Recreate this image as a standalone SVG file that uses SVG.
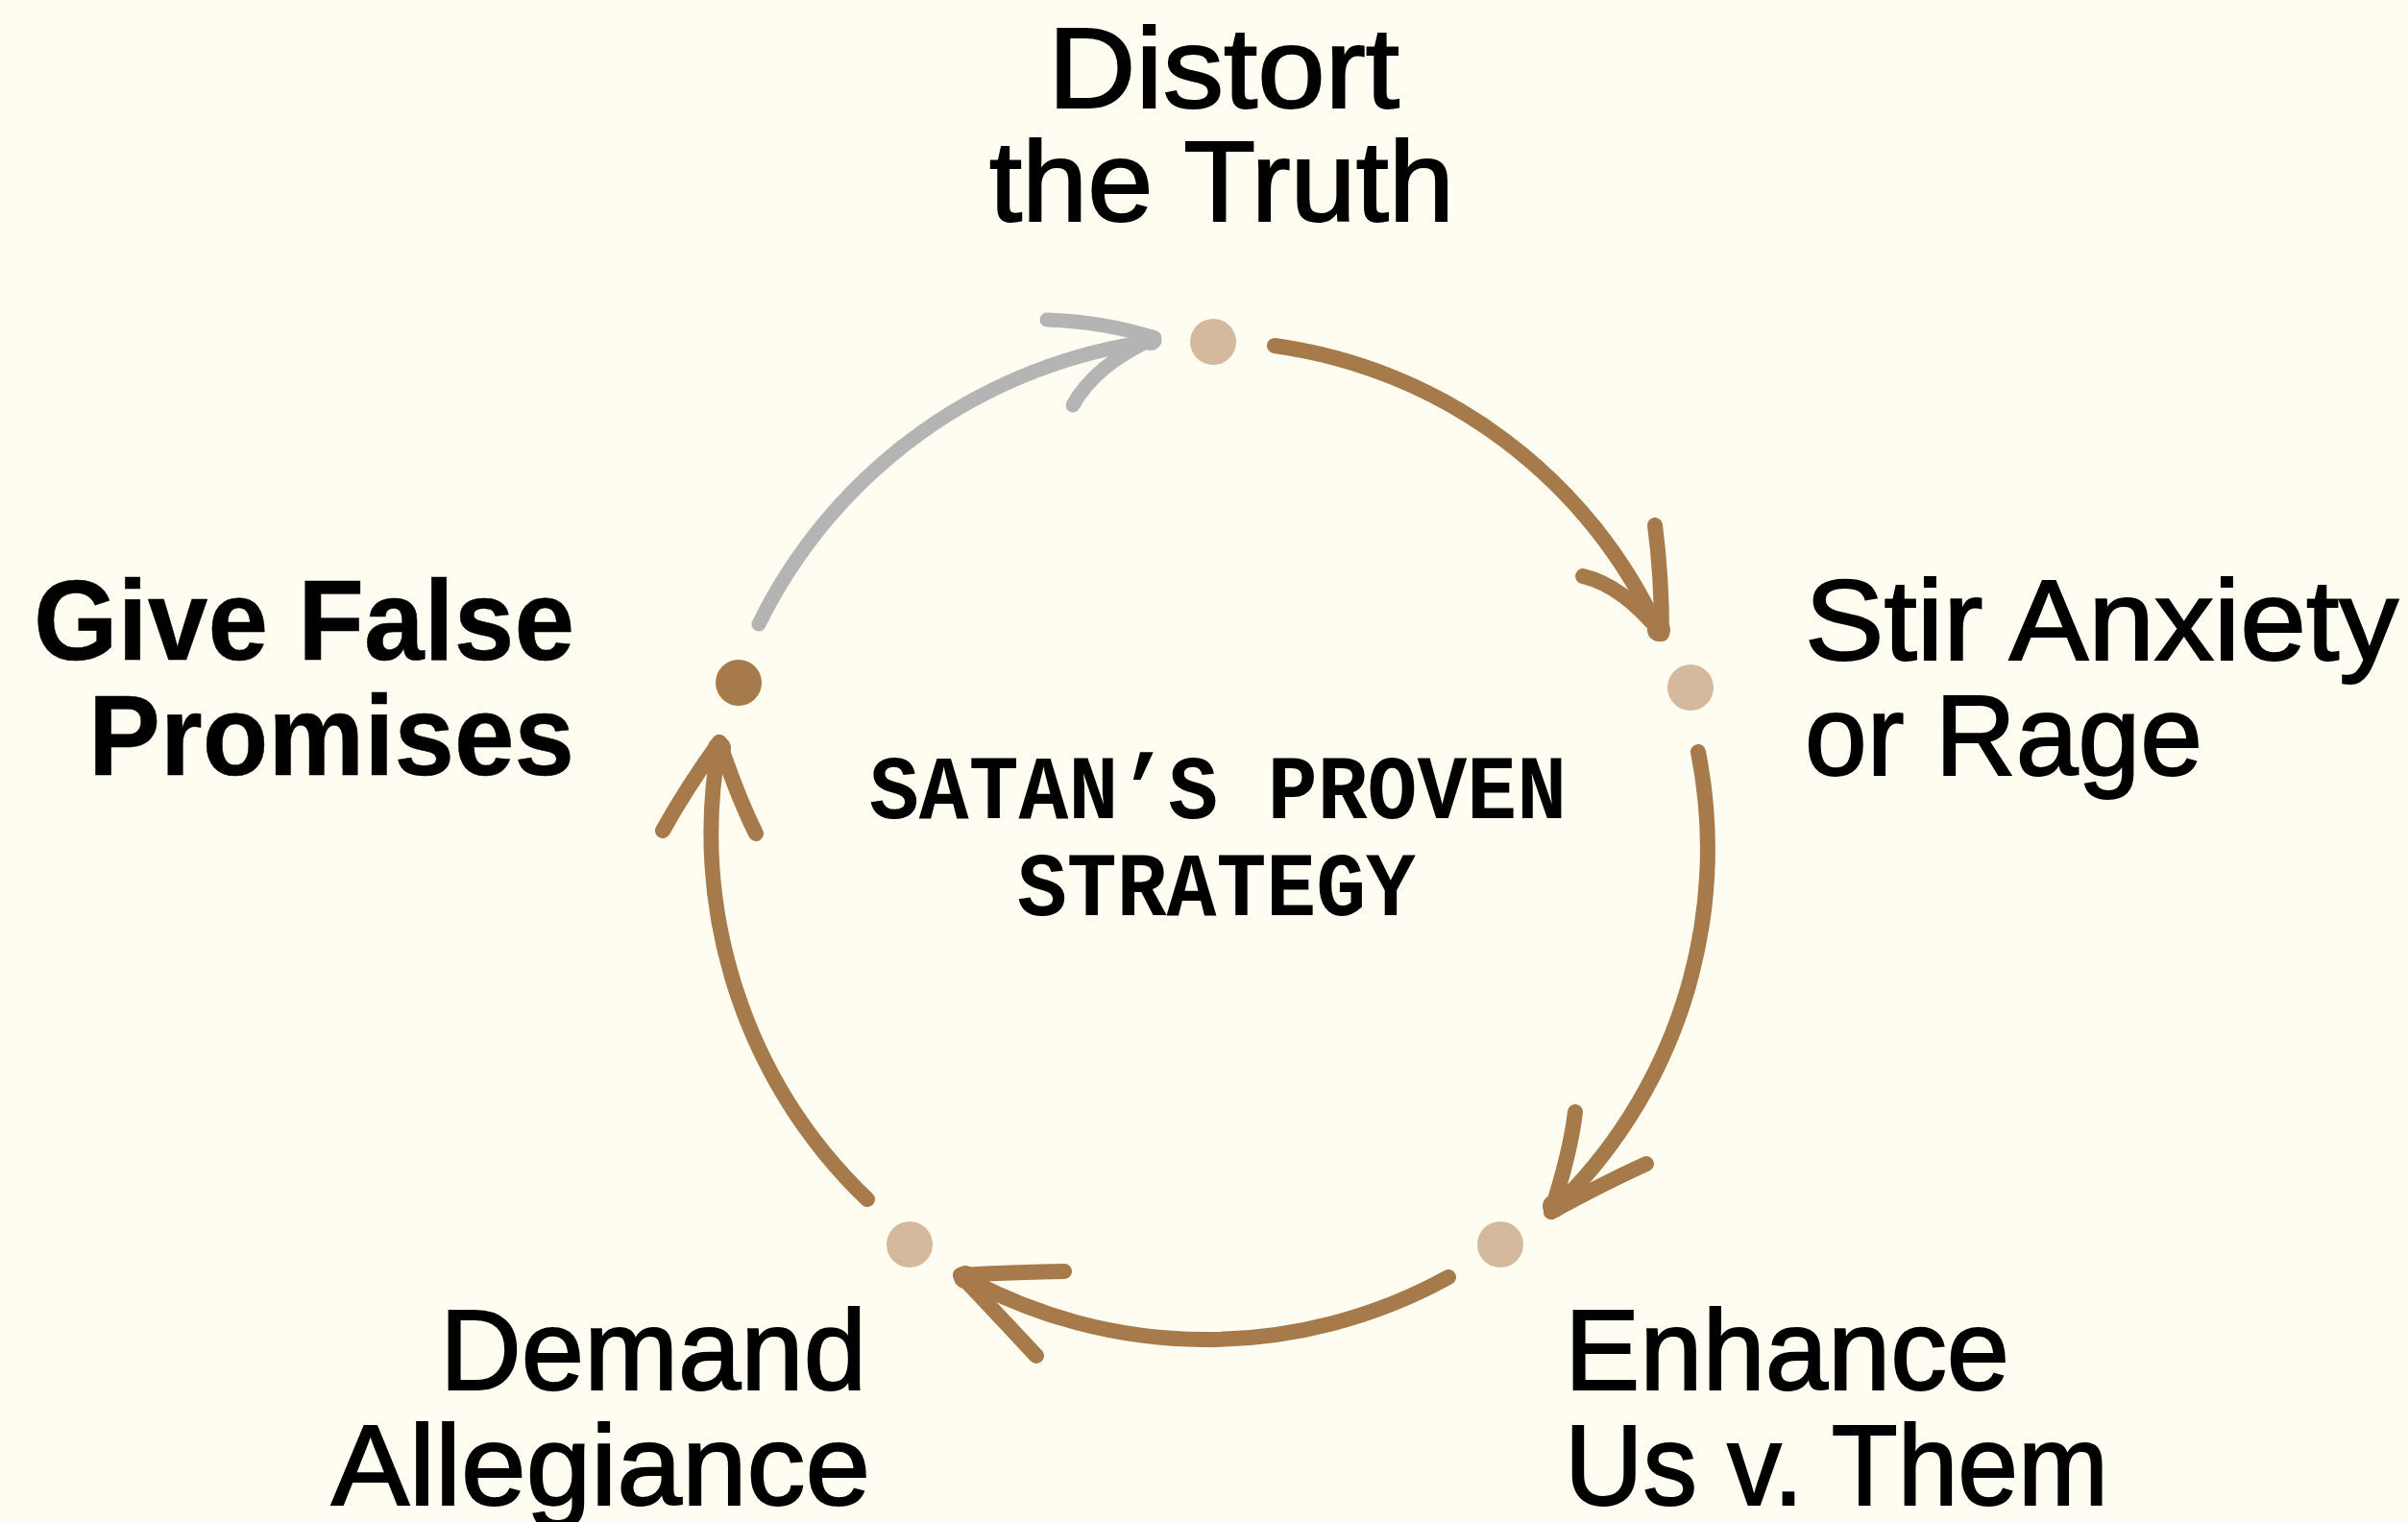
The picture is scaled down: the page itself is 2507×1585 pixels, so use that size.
<svg xmlns="http://www.w3.org/2000/svg" width="2507" height="1585" viewBox="0 0 2507 1585">
<style>
.lbl{font-family:"Liberation Sans",Arial,sans-serif;font-size:118px;fill:#000;stroke:#000;stroke-width:2}
.bold{font-weight:bold;stroke-width:0.5}
.ctr{font-family:"Liberation Mono","Courier New",monospace;font-weight:bold;font-size:94px;fill:#000}
.arc{fill:none;stroke:#a67a4a;stroke-width:16;stroke-linecap:round;stroke-linejoin:round}
.gray{stroke:#b4b4b4;stroke-width:15}
.tip{fill:#a67a4a}
.tipg{fill:#b4b4b4}
.dot{fill:#d4b99c}
.dotd{fill:#a67a4a}
</style>
<rect width="2507" height="1585" fill="#fffdf2"/>
<g id="connectors">
<path class="arc gray" d="M790,650 A535,535 0 0 1 1202,355"/>
<path class="arc gray" d="M1090,333 Q1150,335 1202,352 Q1140,380 1117,422"/>
<circle class="tipg" cx="1198" cy="354" r="11"/>
<path class="arc" d="M1327,360 A518,518 0 0 1 1728,660"/>
<path class="arc" d="M1723,547 Q1730,600 1730,660 Q1690,610 1648,600"/>
<circle class="tip" cx="1727" cy="656" r="12"/>
<path class="arc" d="M1768,783 A520,520 0 0 1 1615,1262"/>
<path class="arc" d="M1640,1158 Q1635,1200 1615,1262 Q1670,1232 1714,1212"/>
<circle class="tip" cx="1618" cy="1256" r="12"/>
<path class="arc" d="M1508,1330 A522,522 0 0 1 1000,1328"/>
<path class="arc" d="M1108,1324 Q1050,1325 1000,1328 Q1040,1370 1079,1412"/>
<circle class="tip" cx="1005" cy="1330" r="12"/>
<path class="arc" d="M903,1249 A528,528 0 0 1 749,773"/>
<path class="arc" d="M690,865 Q715,820 749,773 Q768,830 787,868"/>
<circle class="tip" cx="749" cy="779" r="12"/>
</g>
<g id="n-distort">
<circle class="dot" cx="1263" cy="356" r="24"/>
<text class="lbl" x="1091" y="112" textLength="366" lengthAdjust="spacingAndGlyphs">Distort</text>
<text class="lbl" x="1030" y="230" textLength="484" lengthAdjust="spacingAndGlyphs">the Truth</text>
</g>
<g id="n-stir">
<circle class="dot" cx="1760" cy="716" r="24"/>
<text class="lbl" x="1879" y="687" textLength="618" lengthAdjust="spacingAndGlyphs">Stir Anxiety</text>
<text class="lbl" x="1879" y="807" textLength="414" lengthAdjust="spacingAndGlyphs">or Rage</text>
</g>
<g id="n-enhance">
<circle class="dot" cx="1562" cy="1296" r="24"/>
<text class="lbl" x="1629" y="1447" textLength="463" lengthAdjust="spacingAndGlyphs">Enhance</text>
<text class="lbl" x="1629" y="1567" textLength="566" lengthAdjust="spacingAndGlyphs">Us v. Them</text>
</g>
<g id="n-demand">
<circle class="dot" cx="947" cy="1296" r="24"/>
<text class="lbl" x="458" y="1447" textLength="444" lengthAdjust="spacingAndGlyphs">Demand</text>
<text class="lbl" x="345" y="1567" textLength="561" lengthAdjust="spacingAndGlyphs">Allegiance</text>
</g>
<g id="n-give">
<circle class="dotd" cx="769" cy="711" r="24"/>
<text class="lbl bold" x="35" y="687" textLength="563" lengthAdjust="spacingAndGlyphs">Give False</text>
<text class="lbl bold" x="92" y="807" textLength="506" lengthAdjust="spacingAndGlyphs">Promises</text>
</g>
<g id="center">
<text class="ctr" x="905" y="852" textLength="726" lengthAdjust="spacingAndGlyphs">SATAN’S PROVEN</text>
<text class="ctr" x="1059" y="953" textLength="415" lengthAdjust="spacingAndGlyphs">STRATEGY</text>
</g>
</svg>
